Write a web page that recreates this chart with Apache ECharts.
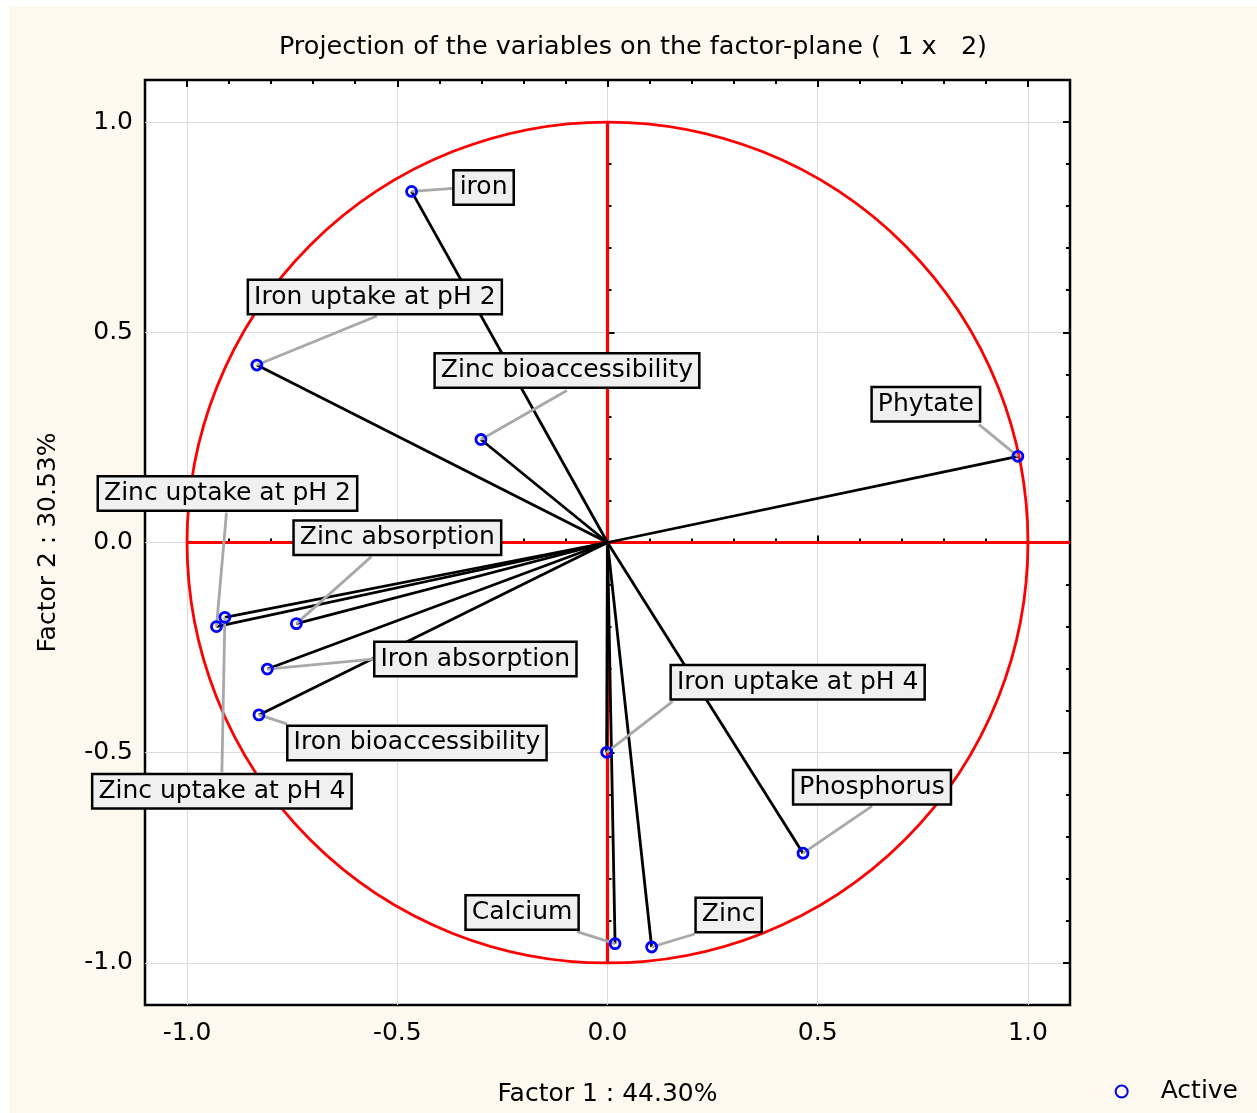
<!DOCTYPE html>
<html>
<head>
<meta charset="utf-8">
<script src="https://cdn.jsdelivr.net/npm/echarts@6/dist/echarts.min.js"></script>
<style>
  html, body { margin: 0; padding: 0; background: #ffffff; }
  #chart { position: absolute; left: 9px; top: 6px; width: 1248px; height: 1107px; background: #FEF9EE; }
</style>
</head>
<body>
<div id="chart"></div>
<script>
// variable names and their loadings on factor 1 / factor 2
const variables = [
  'iron', 'Iron uptake at pH 2', 'Zinc bioaccessibility', 'Phytate',
  'Zinc uptake at pH 2', 'Zinc uptake at pH 4', 'Zinc absorption',
  'Iron absorption', 'Iron bioaccessibility', 'Iron uptake at pH 4',
  'Phosphorus', 'Calcium', 'Zinc'
]
const factor1 = [-0.466, -0.834, -0.301, 0.976, -0.930, -0.910, -0.740, -0.809, -0.829, -0.002, 0.465, 0.018, 0.105]
const factor2 = [0.835, 0.422, 0.245, 0.205, -0.200, -0.178, -0.193, -0.301, -0.410, -0.499, -0.739, -0.954, -0.962]

// where each label box sits, in pixels from its point (layout only)
const labelShift = [
  [72, -4], [118, -68], [86, -69], [-92, -52],
  [11, -133], [-3, 174], [101, -86],
  [208, -10], [158, 28], [191, -70],
  [69, -66], [-93, -31], [77, -32]
]
// where the grey leader line meets the label box, in pixels from its point
const leaderEnd = [
  [42, -3], [120, -49], [86, -49], [-39, -32],
  [10, -114], [-3, 155], [75, -67],
  [106, -10], [28, 9], [66, -51],
  [69, -47], [-38, -12], [43, -13]
]

const points = variables.map((name, i) => ({ name: name, value: [factor1[i], factor2[i]] }))

const FONT = 'DejaVu Sans'

const chart = echarts.init(document.getElementById('chart'))

// frame geometry (container coords)
const frameLeft = 136, frameTop = 74, frameSize = 925
const unit = frameSize / 2.2

const tickAxis = {
  min: -1, max: 1, interval: 0.5,
  axisLine: { show: false },
  axisTick: { show: true, inside: true, length: 7, lineStyle: { color: '#000', width: 2 } },
  minorTick: { show: true, splitNumber: 5, length: 4, lineStyle: { color: '#000', width: 2 } },
  splitLine: { show: false },
  axisLabel: { show: false }
}

const option = {
  animation: false,
  textStyle: { fontFamily: FONT },
  title: {
    text: 'Projection of the variables on the factor-plane (  1 x   2)',
    left: 'center',
    top: 28,
    padding: 0,
    textStyle: { fontFamily: FONT, fontSize: 25.5, fontWeight: 'normal', color: '#000' }
  },
  legend: {
    data: ['Active'],
    right: 14,
    bottom: 4,
    itemWidth: 68,
    itemHeight: 12,
    itemGap: 5,
    textStyle: { fontFamily: FONT, fontSize: 25, color: '#000' }
  },
  grid: [
    { left: frameLeft, top: frameTop, width: frameSize, height: frameSize, show: true,
      backgroundColor: '#fff', borderColor: '#000', borderWidth: 2.5 },
    { left: frameLeft + 0.1 * unit, top: frameTop, width: 2 * unit, height: frameSize },
    { left: frameLeft, top: frameTop + 0.1 * unit, width: frameSize, height: 2 * unit }
  ],
  xAxis: [
    { gridIndex: 0, type: 'value', min: -1.1, max: 1.1, show: false },
    Object.assign({}, tickAxis, {
      gridIndex: 1, type: 'value', position: 'bottom',
      axisLabel: { show: true, margin: 16, fontSize: 25, color: '#000', fontFamily: FONT,
        formatter: v => v.toFixed(1) },
      splitLine: { show: true, lineStyle: { color: '#DCDCDC', width: 1 } },
      name: 'Factor 1 : 44.30%', nameLocation: 'middle', nameGap: 77,
      nameTextStyle: { fontSize: 25, color: '#000', fontFamily: FONT }
    }),
    Object.assign({}, tickAxis, { gridIndex: 1, type: 'value', position: 'top' }),
    { gridIndex: 2, type: 'value', min: -1, max: 1, show: false }
  ],
  yAxis: [
    { gridIndex: 0, type: 'value', min: -1.1, max: 1.1, show: false },
    { gridIndex: 1, type: 'value', min: -1, max: 1, show: false },
    Object.assign({}, tickAxis, {
      gridIndex: 2, type: 'value', position: 'left',
      axisLabel: { show: true, margin: 12, fontSize: 25, color: '#000', fontFamily: FONT,
        formatter: v => v.toFixed(1) },
      splitLine: { show: true, lineStyle: { color: '#DCDCDC', width: 1 } },
      name: 'Factor 2 : 30.53%', nameLocation: 'middle', nameGap: 84,
      nameTextStyle: { fontSize: 25, color: '#000', fontFamily: FONT }
    }),
    Object.assign({}, tickAxis, { gridIndex: 2, type: 'value', position: 'right' })
  ],
  series: [
    {
      // unit circle and red reference axes
      type: 'custom',
      xAxisIndex: 0, yAxisIndex: 0,
      z: 2,
      silent: true,
      data: [[0, 0]],
      renderItem: function (params, api) {
        const c = api.coord([0, 0])
        const r = api.coord([1, 0])[0] - c[0]
        const left = api.coord([-1, 0])
        const right = api.coord([1.1, 0])
        const top = api.coord([0, 1])
        const bottom = api.coord([0, -1])
        return {
          type: 'group',
          children: [
            { type: 'circle', shape: { cx: c[0], cy: c[1], r: r },
              style: { fill: 'none', stroke: '#FF0000', lineWidth: 2.8 } },
            { type: 'line', shape: { x1: left[0], y1: left[1], x2: right[0], y2: right[1] },
              style: { stroke: '#FF0000', lineWidth: 2.8 } },
            { type: 'line', shape: { x1: top[0], y1: top[1], x2: bottom[0], y2: bottom[1] },
              style: { stroke: '#FF0000', lineWidth: 3.2 } }
          ]
        }
      }
    },
    {
      // vectors from the origin to each variable
      type: 'custom',
      xAxisIndex: 0, yAxisIndex: 0,
      z: 3,
      silent: true,
      data: points.map(p => p.value),
      renderItem: function (params, api) {
        const o = api.coord([0, 0])
        const p = api.coord([api.value(0), api.value(1)])
        return {
          type: 'line',
          shape: { x1: o[0], y1: o[1], x2: p[0], y2: p[1] },
          style: { stroke: '#000', lineWidth: 2.8 }
        }
      }
    },
    {
      // grey leader lines from each point to its label box
      type: 'custom',
      xAxisIndex: 0, yAxisIndex: 0,
      z: 3,
      silent: true,
      data: points.map(p => p.value),
      renderItem: function (params, api) {
        const p = api.coord([api.value(0), api.value(1)])
        const e = leaderEnd[params.dataIndex]
        return {
          type: 'line',
          z2: 5,
          shape: { x1: p[0], y1: p[1], x2: p[0] + e[0], y2: p[1] + e[1] },
          style: { stroke: '#A8A8A8', lineWidth: 2.8 }
        }
      }
    },
    {
      name: 'Active',
      type: 'scatter',
      xAxisIndex: 0, yAxisIndex: 0,
      z: 4,
      symbol: 'circle',
      symbolSize: 10,
      itemStyle: { color: 'rgba(255,255,255,0)', borderColor: '#0000FF', borderWidth: 2.8, opacity: 1 },
      data: points,
      label: {
        show: true,
        position: 'inside',
        formatter: '{b}',
        fontFamily: FONT,
        fontSize: 25,
        color: '#000',
        backgroundColor: '#F0F0F0',
        borderColor: '#000',
        borderWidth: 2.5,
        padding: [4, 5, 3, 5]
      },
      labelLayout: function (params) {
        const s = labelShift[params.dataIndex]
        return { dx: s[0], dy: s[1] }
      },
      emphasis: { disabled: true }
    }
  ]
}

chart.setOption(option)
</script>
</body>
</html>
